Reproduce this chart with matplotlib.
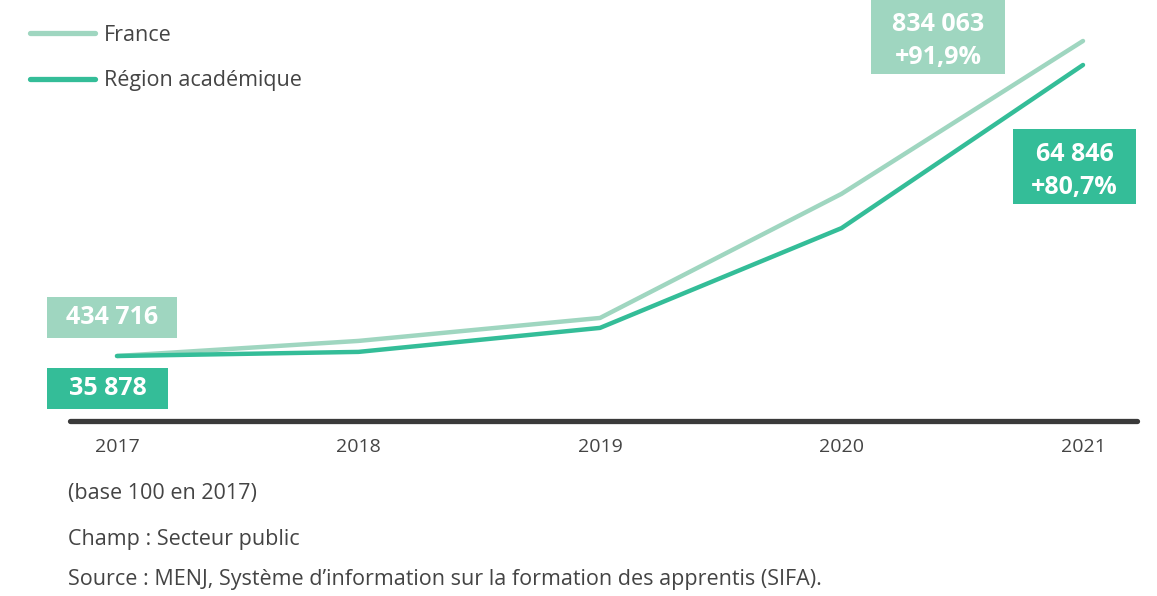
import matplotlib.pyplot as plt
from matplotlib.lines import Line2D
from matplotlib.path import Path

# index values (base 100 en 2017)
years = ["2017", "2018", "2019", "2020", "2021"]
france = [100, 104.4, 111.1, 147.3, 191.9]
region = [100, 101.2, 108.2, 137.3, 184.9]

series_names = ["France", "Région académique"]
start_labels = ["434 716", "35 878"]
end_labels = ["834 063\n+91,9%", "64 846\n+80,7%"]

LIGHT = "#9fd6c0"
DARK = "#34bd98"
TXT = "#444444"

plt.rcParams['font.family'] = ['Open Sans', 'DejaVu Sans']

W, H = 1157, 596
fig = plt.figure(figsize=(W / 100, H / 100), dpi=100)
ax = fig.add_axes([70 / W, (H - 421) / H, (1137 - 70) / W, 421 / H])

x = list(range(len(years)))
ax.plot(x, france, color=LIGHT, lw=3.2, solid_capstyle='round', solid_joinstyle='round', zorder=3)
ax.plot(x, region, color=DARK, lw=3.2, solid_capstyle='round', solid_joinstyle='round', zorder=4)

ax.set_xlim(-0.1946, 4.2236)
ax.set_ylim(81.04, 203.85)

for s in ['top', 'right', 'left']:
    ax.spines[s].set_visible(False)
ax.spines['bottom'].set_color('#3a3a3a')
ax.spines['bottom'].set_linewidth(3.8)
ax.spines['bottom'].set_capstyle('round')
ax.set_yticks([])
ax.set_xticks(x)
ax.set_xticklabels(years)
ax.tick_params(axis='x', length=0, pad=12, labelsize=14, labelcolor=TXT)


def fixed_box(w, h, dy=0):
    # box of fixed pixel size centred on the text (shifted by dy pixels)
    def style(x0, y0, width, height, mutation_size):
        cx, cy = x0 + width / 2, y0 + height / 2 + dy
        verts = [(cx - w / 2, cy - h / 2), (cx + w / 2, cy - h / 2),
                 (cx + w / 2, cy + h / 2), (cx - w / 2, cy + h / 2),
                 (cx - w / 2, cy - h / 2)]
        return Path(verts, closed=True)
    return style


def box(txt, xy, off, col, size):
    ax.annotate(txt, xy=xy, xytext=off, textcoords='offset pixels',
                ha='center', va='center', color='white', fontsize=18,
                fontweight='bold', linespacing=1.4, zorder=5,
                bbox=dict(boxstyle=fixed_box(*size), fc=col, ec='none'))


box(start_labels[0], (0, france[0]), (-5, 39), LIGHT, (130, 41))
box(start_labels[1], (0, region[0]), (-9.5, -32), DARK, (121, 41))
box(end_labels[0], (4, france[-1]), (-145, 0), LIGHT, (134, 75, 4))
box(end_labels[1], (4, region[-1]), (-8.5, -106), DARK, (123, 75, 4))

handles = [Line2D([], [], color=LIGHT, lw=3.8, solid_capstyle='round'),
           Line2D([], [], color=DARK, lw=3.8, solid_capstyle='round')]
fig.legend(handles, series_names, loc='upper left',
           bbox_to_anchor=(30 / W, 1 - 25 / H), frameon=False,
           fontsize=15.5, handlelength=3.0, handletextpad=0.45,
           labelspacing=1.12, borderpad=0, borderaxespad=0, labelcolor=TXT)

notes = ["(base 100 en 2017)", "Champ : Secteur public",
         "Source : MENJ, Système d’information sur la formation des apprentis (SIFA)."]
for note, ypx in zip(notes, [493, 540, 580]):
    fig.text(68 / W, 1 - ypx / H, note, fontsize=15.5, color=TXT, va='center')

fig.savefig("out.png", dpi=100)
